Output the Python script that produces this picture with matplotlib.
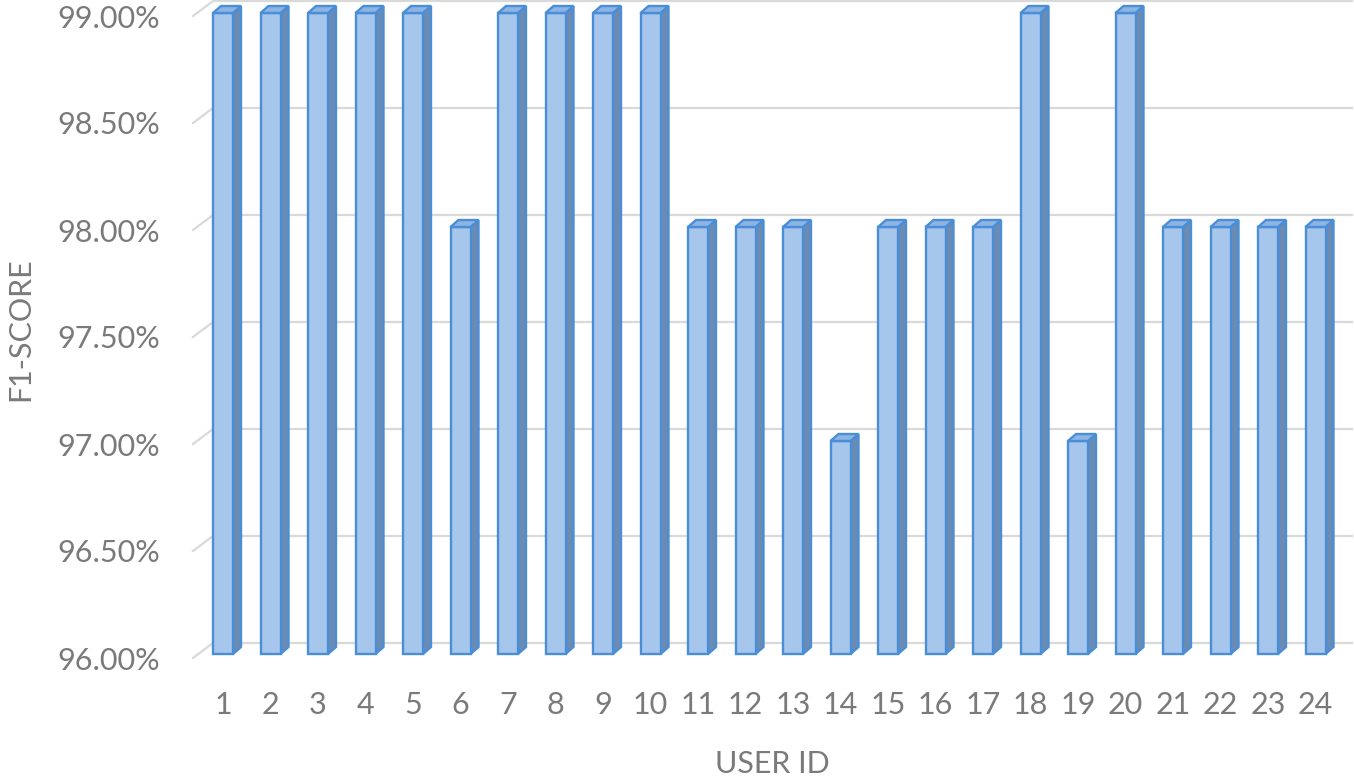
import numpy as np
import matplotlib
matplotlib.use('Agg')
import matplotlib.pyplot as plt
from matplotlib.patches import Polygon

user_ids = [str(i) for i in range(1, 25)]
f1_score = [99, 99, 99, 99, 99, 98, 99, 99, 99, 99, 98, 98,
            98, 97, 98, 98, 98, 99, 97, 99, 98, 98, 98, 98]
y_ticks = [96.0, 96.5, 97.0, 97.5, 98.0, 98.5, 99.0]
y_tick_labels = ['%.2f%%' % v for v in y_ticks]

W, H = 1354, 776
plt.rcParams['font.family'] = ['Lato', 'DejaVu Sans']
text_col = '#7a7a7a'
edge_col = '#4a8ed8'

fig = plt.figure(figsize=(W / 100, H / 100), dpi=100)
# front plane of the pseudo 3d chart
ax = fig.add_axes([193 / W, (H - 658) / H, (1352 - 193) / W, 658 / H])

# data units per pixel
sx = 1 / 47.5
sy = 1 / 214.
x0 = 1 - 30 * sx
ax.set_xlim(x0, 1 + 1129 * sx)
ax.set_ylim(96, 99 + 16 * sy)

# gridlines sit on the back wall, with a slanted stub to the front
gdx, gdy = 20 * sx, 15 * sy
for v in y_ticks:
  ax.plot([x0, x0 + gdx, 1 + 1129 * sx], [v, v + gdy, v + gdy],
          color='#d9d9d9', lw=1.6, clip_on=False, zorder=1)

x = np.arange(1, len(f1_score) + 1)
bw = 20 * sx
ddx, ddy = 8 * sx, 7 * sy
base = 96 + 4 * sy
tops = np.array(f1_score) + 3 * sy
ax.bar(x, tops - base, bottom=base, width=bw, color='#a6c6ec',
       edgecolor=edge_col, linewidth=1.7, zorder=3)
for xi, top in zip(x, tops):
  xl, xr = xi - bw / 2, xi + bw / 2
  side = Polygon([(xr, base), (xr, top), (xr + ddx, top + ddy), (xr + ddx, base + ddy)],
                 closed=True, facecolor='#6b8bb3', edgecolor=edge_col, lw=1.7, zorder=2)
  cap = Polygon([(xl, top), (xr, top), (xr + ddx, top + ddy), (xl + ddx, top + ddy)],
                closed=True, facecolor='#8db4e2', edgecolor=edge_col, lw=1.7, zorder=4,
                clip_on=False)
  ax.add_patch(side)
  ax.add_patch(cap)

ax.set_yticks(y_ticks)
ax.set_yticklabels(y_tick_labels)
ax.set_xticks(x)
ax.set_xticklabels(user_ids)
ax.tick_params(axis='y', length=0, pad=24, labelsize=22, labelcolor=text_col)
ax.tick_params(axis='x', length=0, pad=24, labelsize=22, labelcolor=text_col)
for s in ax.spines.values():
  s.set_visible(False)

ax.set_xlabel('USER ID', fontsize=22, color=text_col, labelpad=22)
ax.set_ylabel('F1-SCORE', fontsize=22, color=text_col, labelpad=16)

plt.savefig('out.png', dpi=100)
